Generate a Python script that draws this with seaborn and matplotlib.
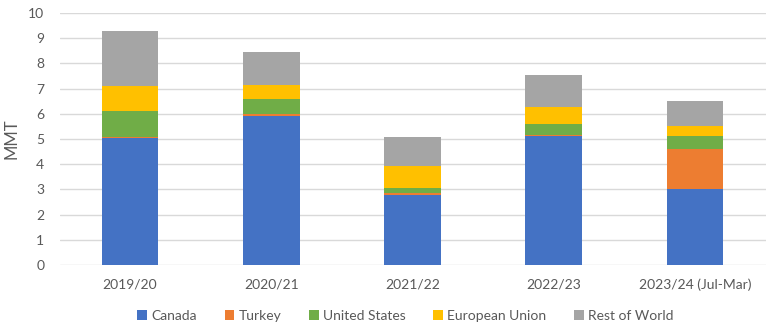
import matplotlib
matplotlib.use("Agg")
import matplotlib.pyplot as plt
import seaborn as sns
import numpy as np

categories = ["2019/20", "2020/21", "2021/22", "2022/23", "2023/24 (Jul-Mar)"]
canada = [5.02, 5.93, 2.77, 5.13, 3.02]
turkey = [0.07, 0.06, 0.10, 0.02, 1.57]
united_states = [1.02, 0.58, 0.17, 0.45, 0.53]
european_union = [1.01, 0.56, 0.90, 0.67, 0.40]
rest_of_world = [2.17, 1.31, 1.13, 1.27, 0.99]

series = [("Canada", canada, "#4472C4"),
          ("Turkey", turkey, "#ED7D31"),
          ("United States", united_states, "#70AD47"),
          ("European Union", european_union, "#FFC000"),
          ("Rest of World", rest_of_world, "#A5A5A5")]

sns.set_style("white")
plt.rcParams['font.family'] = ['Lato', 'DejaVu Sans']

fig = plt.figure(figsize=(7.76, 3.26), dpi=100)
ax = fig.add_axes([59.5/776, 1 - 265/326, (765.5 - 59.5)/776, (265 - 13)/326])

bottom = np.zeros(len(categories))
for name, vals, col in series:
    sns.barplot(x=categories, y=vals, bottom=bottom, color=col, width=0.4,
                ax=ax, label=name, edgecolor="none", linewidth=0, saturation=1)
    bottom = bottom + np.array(vals)

ax.set_ylim(0, 10)
ax.set_xlim(-0.5, len(categories) - 0.5)
ax.set_yticks(range(0, 11))
ax.yaxis.grid(True, color="#D9D9D9", linewidth=1)
ax.set_axisbelow(True)
for s in ax.spines.values():
    s.set_visible(False)
ax.tick_params(axis="y", length=0, labelsize=10, colors="#595959", pad=11)
ax.tick_params(axis="x", length=0, labelsize=10, colors="#595959", pad=10)
ax.set_ylabel("MMT", fontsize=12, color="#595959", labelpad=6)
ax.set_xlabel("")

leg = ax.legend(loc="center", bbox_to_anchor=(0.5 - 0.01, (265 - 316) / 252), ncol=5,
                frameon=False, fontsize=10, handlelength=0.7, handleheight=0.7,
                handletextpad=0.3, columnspacing=2.0)
for t in leg.get_texts():
    t.set_color("#595959")

fig.savefig("out.png", dpi=100)
